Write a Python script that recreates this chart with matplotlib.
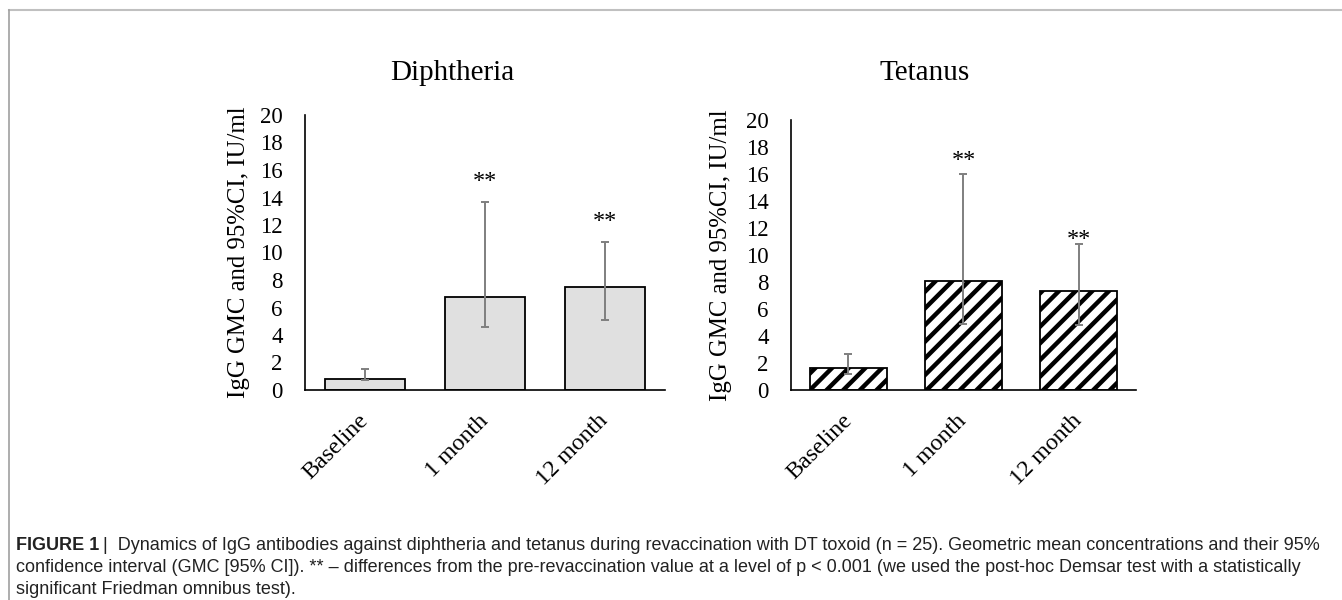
import numpy as np
import matplotlib
matplotlib.use("Agg")
import matplotlib.pyplot as plt
from matplotlib.lines import Line2D

# Data (IgG GMC with 95% CI, IU/ml)
categories = ['Baseline', '1 month', '12 month']
diph_gmc = [0.78, 6.75, 7.5]
diph_lo = [0.72, 4.6, 5.1]
diph_hi = [1.5, 13.7, 10.8]
diph_stars = ['', '**', '**']
diph_star_y = [0, 14.4, 11.5]

tet_gmc = [1.6, 8.1, 7.3]
tet_lo = [1.2, 4.9, 4.8]
tet_hi = [2.7, 16.0, 10.8]
tet_stars = ['', '**', '**']
tet_star_y = [0, 16.2, 10.4]

yticks = list(range(0, 21, 2))

plt.rcParams['font.family'] = ['Liberation Serif', 'DejaVu Serif']
plt.rcParams['hatch.linewidth'] = 3.2

fig = plt.figure(figsize=(13.42, 6), dpi=100)
W, H = 1342.0, 600.0


def px_axes(l, r, t, b):
    return fig.add_axes([l / W, 1 - b / H, (r - l) / W, (b - t) / H])


def panel(ax, gmc, lo, hi, stars, star_y, hatched, label_x):
    x = np.arange(len(categories))
    if hatched:
        ax.bar(x, gmc, width=0.67, color='white', edgecolor='black',
               hatch='//', linewidth=1.3, zorder=2)
    else:
        ax.bar(x, gmc, width=0.67, color='#e0e0e0', edgecolor='black',
               linewidth=1.3, zorder=2)
    err = [np.array(gmc) - np.array(lo), np.array(hi) - np.array(gmc)]
    ax.errorbar(x, gmc, yerr=err, fmt='none', ecolor='#7f7f7f',
                elinewidth=1.4, capsize=3, capthick=1.4, zorder=3)
    for xi, s, sy in zip(x, stars, star_y):
        if s:
            ax.text(xi, sy, s, ha='center', va='bottom', fontsize=17.5)
    ax.set_xlim(-0.5, len(categories) - 0.5)
    ax.set_ylim(0, 20)
    ax.set_yticks(yticks)
    ax.tick_params(axis='y', length=0, pad=16, labelsize=16.5)
    ax.tick_params(axis='x', length=0, pad=20, labelsize=17.3)
    ax.set_xticks(x)
    ax.set_xticklabels(categories, rotation=45, ha='right', va='center',
                       rotation_mode='anchor')
    for side in ['top', 'right']:
        ax.spines[side].set_visible(False)
    for side in ['left', 'bottom']:
        ax.spines[side].set_linewidth(1.2)
    ax.set_ylabel('IgG GMC and 95%CI, IU/ml', fontsize=17.8)
    ax.yaxis.set_label_coords(label_x, 0.5)


ax1 = px_axes(305, 665, 115, 390)
panel(ax1, diph_gmc, diph_lo, diph_hi, diph_stars, diph_star_y, False, -0.152)
ax2 = px_axes(791, 1136, 120, 390)
panel(ax2, tet_gmc, tet_lo, tet_hi, tet_stars, tet_star_y, True, -0.17)

fig.text(452 / W, 1 - 73 / H, 'Diphtheria', ha='center', va='center', fontsize=21)
fig.text(925 / W, 1 - 73 / H, 'Tetanus', ha='center', va='center', fontsize=21)

# frame around the figure panel
fig.add_artist(Line2D([9 / W, 1], [1 - 10 / H, 1 - 10 / H], color='#c0c0c0', lw=1.5,
                      transform=fig.transFigure))
fig.add_artist(Line2D([9 / W, 9 / W], [0, 1 - 10 / H], color='#a0a0a0', lw=1.2,
                      transform=fig.transFigure))

# caption
cap_font = ['Liberation Sans Narrow', 'Liberation Sans', 'DejaVu Sans']
cap_size = 13.0
lines = [
    'Dynamics of IgG antibodies against diphtheria and tetanus during revaccination with DT toxoid (n = 25). Geometric mean concentrations and their 95%',
    'confidence interval (GMC [95% CI]). ** \u2013 differences from the pre-revaccination value at a level of p < 0.001 (we used the post-hoc Demsar test with a statistically',
    'significant Friedman omnibus test).',
]
renderer = fig.canvas.get_renderer()
t0 = fig.text(16 / W, 1 - 546 / H, 'FIGURE 1', fontsize=cap_size, fontweight='bold',
              family=cap_font, va='center', color='#222222')
bb = t0.get_window_extent(renderer)
fig.text(bb.x1 / W + 4 / W, 1 - 546 / H, '|  ' + lines[0], fontsize=cap_size,
         family=cap_font, va='center', color='#222222')
fig.text(16 / W, 1 - 568 / H, lines[1], fontsize=cap_size, family=cap_font,
         va='center', color='#222222')
fig.text(16 / W, 1 - 590 / H, lines[2], fontsize=cap_size, family=cap_font,
         va='center', color='#222222')

fig.savefig('out.png', dpi=100)
